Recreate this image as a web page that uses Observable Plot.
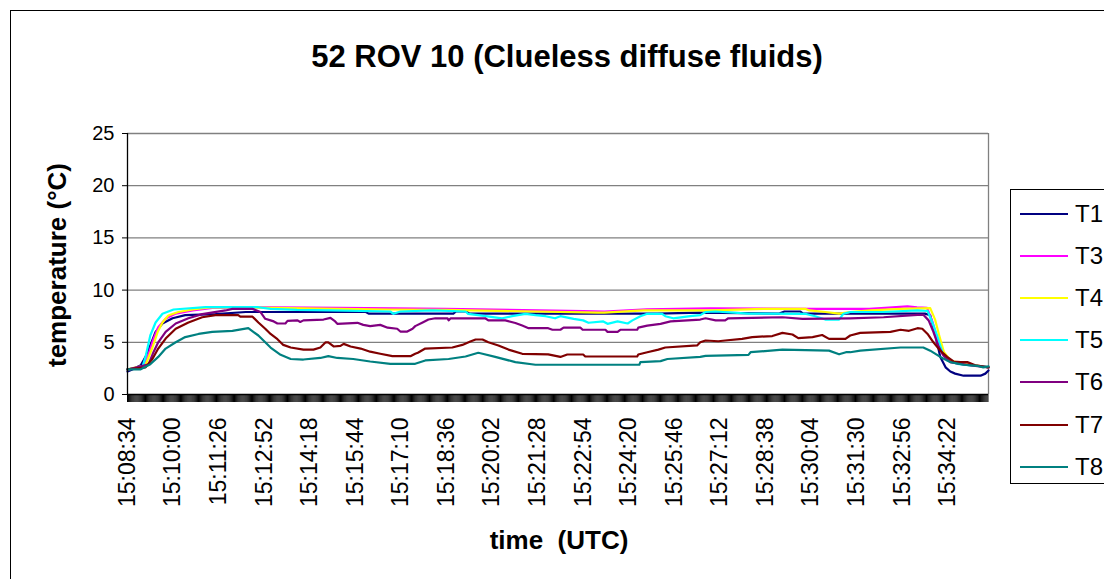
<!DOCTYPE html>
<html><head><meta charset="utf-8">
<script src="https://cdn.jsdelivr.net/npm/d3@7"></script>
<script src="https://cdn.jsdelivr.net/npm/@observablehq/plot@0.6"></script>
<style>
body{margin:0;background:#fff;font-family:Arial,"Liberation Sans",sans-serif;}
#wrap{position:relative;width:1104px;height:579px;overflow:hidden;background:#fff;}
#wrap svg{position:absolute;left:0;top:0;}
.border{position:absolute;left:10px;top:10px;width:1200px;height:700px;border:1px solid #000;box-sizing:border-box;}
.title{position:absolute;left:567px;top:41px;transform:translateX(-50%);font-size:31px;font-weight:bold;white-space:nowrap;line-height:1;}
.ytitle{position:absolute;left:57px;top:265px;transform:translate(-50%,-50%) rotate(-90deg);font-size:26px;font-weight:bold;white-space:nowrap;line-height:1;}
.xtitle{position:absolute;left:559px;top:540px;transform:translate(-50%,-50%);font-size:26px;font-weight:bold;white-space:pre;line-height:1;}
.legend{position:absolute;left:1010px;top:189px;width:140px;height:295px;border:1px solid #000;box-sizing:border-box;background:#fff;}
.entry{position:absolute;left:9px;height:30px;display:flex;align-items:center;font-size:24px;}
.entry span.sw{display:inline-block;width:48px;height:2px;margin-right:7px;}
</style></head><body><div id="wrap"></div>
<script>
// ---- data ----
const seriesNames = ["T1","T3","T4","T5","T6","T7","T8"];
const seriesColors = ["#000080","#FF00FF","#FFFF00","#00FFFF","#800080","#800000","#008080"];
const startClock = "15:08:34";
const endSecond = 1625; // seconds after start where the record ends
const xTickLabels = ["15:08:34","15:10:00","15:11:26","15:12:52","15:14:18","15:15:44","15:17:10","15:18:36","15:20:02","15:21:28","15:22:54","15:24:20","15:25:46","15:27:12","15:28:38","15:30:04","15:31:30","15:32:56","15:34:22"];
const yTicks = [0,5,10,15,20,25];
const sampleStep = 2; // seconds per category

// [seconds after 15:08:34, temperature °C]
const T1 = [[0,2.2],[9,2.4],[25,2.8],[34,3.6],[43,4.7],[53,6.0],[66,6.8],[85,7.3],[109,7.6],[166,7.7],[223,7.9],[270,7.9],[450,7.9],[455,7.75],[615,7.75],[620,7.95],[640,7.95],[645,7.75],[1000,7.75],[1080,7.85],[1230,7.75],[1240,7.95],[1270,7.95],[1275,7.75],[1505,7.75],[1515,7.6],[1525,5.65],[1534,3.6],[1544,2.6],[1553,2.2],[1562,2.0],[1578,1.8],[1610,1.8],[1619,2.0],[1625,2.3]];
const T3 = [[0,2.4],[28,2.6],[40,3.9],[49,5.3],[58,6.45],[72,7.25],[91,7.75],[123,8.05],[160,8.3],[270,8.35],[400,8.3],[600,8.2],[860,8.0],[900,7.95],[980,8.15],[1100,8.25],[1300,8.2],[1400,8.2],[1430,8.3],[1472,8.45],[1490,8.35],[1509,8.3],[1519,7.0],[1528,5.4],[1538,3.9],[1550,3.2],[1578,2.94],[1604,2.78],[1625,2.6]];
const T4 = [[0,2.4],[34,2.8],[47,4.5],[57,6.0],[66,6.9],[77,7.57],[96,7.9],[123,8.14],[160,8.36],[270,8.3],[496,8.14],[600,8.1],[887,7.85],[900,7.85],[974,8.05],[1100,8.05],[1204,8.2],[1280,8.2],[1287,8.05],[1317,7.9],[1343,7.75],[1364,7.9],[1402,8.05],[1459,8.2],[1515,8.27],[1524,7.2],[1532,5.65],[1541,4.05],[1553,3.26],[1578,2.94],[1604,2.78],[1625,2.6]];
const T5 = [[0,2.4],[28,2.6],[34,3.6],[43,5.65],[53,6.9],[66,7.73],[87,8.14],[147,8.36],[247,8.36],[270,8.2],[320,8.1],[383,8.05],[496,7.95],[502,7.73],[515,7.95],[575,8.05],[638,7.95],[643,7.73],[676,7.5],[707,7.3],[726,7.5],[751,7.73],[770,7.6],[789,7.5],[807,7.3],[817,7.5],[842,7.25],[860,7.1],[870,6.87],[898,7.0],[906,6.77],[925,7.0],[944,6.8],[953,7.1],[968,7.5],[981,7.73],[1009,7.73],[1015,7.5],[1030,7.3],[1062,7.5],[1081,7.6],[1091,7.9],[1110,7.95],[1172,7.75],[1279,7.73],[1298,7.5],[1317,7.18],[1343,7.18],[1351,7.73],[1364,7.9],[1427,7.9],[1491,8.05],[1510,8.0],[1519,6.9],[1528,5.65],[1538,4.05],[1547,3.26],[1566,2.94],[1591,2.78],[1615,2.7],[1625,2.6]];
const T6 = [[0,2.4],[40,2.9],[49,4.05],[58,5.0],[72,6.0],[91,6.8],[115,7.3],[141,7.7],[185,8.05],[198,8.2],[236,8.2],[251,7.9],[260,7.25],[270,7.1],[276,7.0],[283,6.8],[298,6.8],[302,7.05],[321,7.1],[326,6.95],[332,7.1],[370,7.18],[383,7.34],[392,7.0],[396,6.77],[434,6.87],[445,6.67],[458,6.55],[477,6.67],[491,6.4],[509,6.3],[515,6.03],[528,6.03],[538,6.3],[543,6.55],[557,6.9],[568,7.18],[581,7.3],[604,7.3],[606,7.1],[610,7.3],[675,7.3],[681,7.1],[713,7.1],[732,6.85],[745,6.6],[757,6.35],[794,6.35],[802,6.2],[817,6.2],[823,6.4],[855,6.4],[859,6.2],[902,6.2],[906,6.0],[925,6.0],[930,6.2],[962,6.2],[964,6.4],[981,6.6],[1006,6.77],[1025,7.0],[1081,7.18],[1091,7.3],[1110,7.1],[1128,7.1],[1134,7.3],[1236,7.4],[1274,7.25],[1364,7.3],[1427,7.4],[1491,7.63],[1502,7.63],[1512,7.1],[1521,6.0],[1530,4.7],[1540,3.73],[1553,3.1],[1572,2.94],[1600,2.75],[1625,2.6]];
const T7 = [[0,2.4],[34,2.6],[47,3.4],[58,4.4],[72,5.36],[91,6.3],[115,6.9],[141,7.4],[166,7.6],[209,7.6],[213,7.45],[236,7.45],[247,6.9],[260,6.3],[270,5.8],[283,5.3],[294,4.75],[308,4.5],[332,4.3],[351,4.3],[364,4.5],[374,5.0],[379,5.0],[389,4.6],[402,4.65],[408,4.85],[421,4.6],[440,4.4],[458,4.1],[477,3.9],[500,3.67],[534,3.67],[543,3.9],[548,4.0],[562,4.4],[613,4.5],[632,4.75],[647,5.07],[657,5.27],[670,5.27],[681,5.0],[700,4.7],[719,4.3],[745,3.9],[794,3.85],[817,3.6],[830,3.83],[860,3.83],[864,3.64],[962,3.64],[964,3.83],[981,4.05],[1002,4.3],[1015,4.5],[1075,4.7],[1081,5.0],[1091,5.17],[1115,5.1],[1128,5.17],[1160,5.33],[1179,5.5],[1217,5.6],[1236,5.9],[1255,5.75],[1266,5.4],[1293,5.5],[1311,5.7],[1324,5.33],[1355,5.33],[1364,5.65],[1383,5.9],[1440,6.0],[1459,6.2],[1475,6.1],[1491,6.35],[1500,6.3],[1510,5.8],[1521,5.0],[1534,4.2],[1547,3.6],[1559,3.16],[1572,3.1],[1585,3.1],[1600,2.8],[1625,2.6]];
const T8 = [[0,2.4],[24,2.4],[43,2.9],[58,3.6],[72,4.4],[91,5.0],[109,5.5],[134,5.8],[160,6.0],[198,6.1],[228,6.35],[247,5.65],[270,4.5],[289,3.8],[308,3.4],[332,3.35],[364,3.5],[379,3.67],[396,3.5],[426,3.4],[458,3.16],[496,2.94],[543,2.94],[562,3.26],[606,3.4],[638,3.64],[662,4.0],[670,3.9],[694,3.6],[732,3.1],[770,2.85],[966,2.85],[968,3.1],[1006,3.2],[1019,3.4],[1081,3.6],[1091,3.7],[1172,3.8],[1176,4.05],[1236,4.3],[1324,4.2],[1343,3.85],[1356,4.05],[1364,4.05],[1383,4.2],[1459,4.5],[1502,4.5],[1515,4.2],[1534,3.6],[1553,3.1],[1578,2.85],[1604,2.75],[1615,2.6],[1625,2.7]];
const seriesData = [T1,T3,T4,T5,T6,T7,T8];

// ---- build ----
const toSec = s => { const [h,m,c] = s.split(":").map(Number); return h*3600+m*60+c; };
const t0 = toSec(startClock);
const labelSecs = xTickLabels.map(l => toSec(l) - t0);
const labelMap = new Map(labelSecs.map((s,i)=>[s, xTickLabels[i]]));
const denseTicks = d3.range(0, endSecond + 1, sampleStep);
const rows = seriesNames.flatMap((name,i) => seriesData[i].map(([t,v]) => ({series:name, t, v})));

const chart = Plot.plot({
  width:1104, height:579,
  marginLeft:127, marginRight:116, marginTop:133, marginBottom:185,
  style:{fontFamily:"Arial, 'Liberation Sans', sans-serif", background:"transparent", overflow:"visible", color:"#000"},
  x:{type:"linear", domain:[0,endSecond]},
  y:{domain:[0,25]},
  color:{domain:seriesNames, range:seriesColors},
  marks:[
    Plot.ruleY(yTicks.slice(1), {stroke:"#808080", strokeWidth:1.3}),
    Plot.ruleX([endSecond], {y1:0, y2:25, stroke:"#808080", strokeWidth:1.3}),
    Plot.lineY(rows, {x:"t", y:"v", z:"series", stroke:"series", strokeWidth:2.2, curve:"linear"}),
    Plot.ruleX([0], {y1:0, y2:25, stroke:"#000", strokeWidth:1.3}),
    Plot.ruleY([0], {stroke:"#000", strokeWidth:1.3}),
    Plot.axisY({ticks:yTicks, tickSize:5, tickPadding:8, fontSize:20, label:null, tickFormat:d=>String(d)}),
    Plot.axisX({ticks:denseTicks, tickSize:8, tickFormat:()=>"", label:null, strokeWidth:1}),
    Plot.axisX({ticks:labelSecs, tickSize:0, tickPadding:23, tickRotate:-90, fontSize:23, label:null, tickFormat:d=>labelMap.get(d)})
  ]
});

const wrap = document.getElementById("wrap");
wrap.appendChild(chart);
const add = (cls, text) => { const d = document.createElement("div"); d.className = cls; if (text) d.textContent = text; wrap.appendChild(d); return d; };
add("border");
add("title", "52 ROV 10 (Clueless diffuse fluids)");
add("ytitle", "temperature (°C)");
add("xtitle", "time  (UTC)");
const leg = add("legend");
seriesNames.forEach((n,i) => {
  const e = document.createElement("div");
  e.className = "entry";
  e.style.top = (9 + i*42.1) + "px";
  const sw = document.createElement("span"); sw.className = "sw"; sw.style.background = seriesColors[i];
  e.appendChild(sw); e.appendChild(document.createTextNode(n));
  leg.appendChild(e);
});
</script></body></html>
